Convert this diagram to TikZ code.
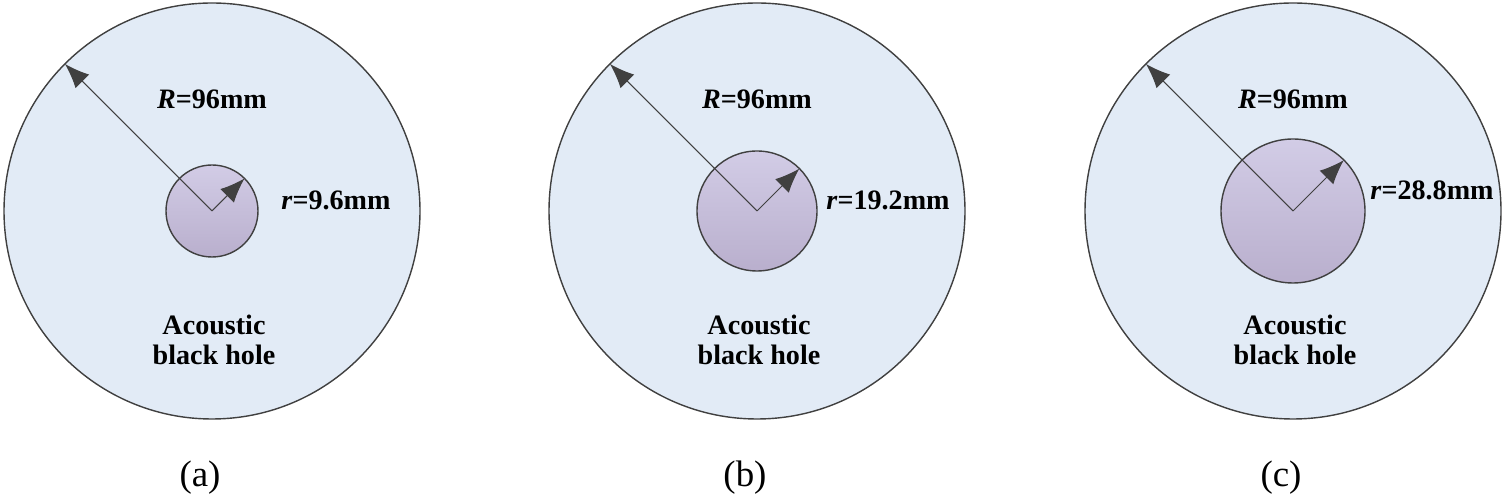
\documentclass[tikz,border=0pt]{standalone}
\usepackage{fontspec}
\setmainfont{Liberation Serif}
\usetikzlibrary{arrows.meta}
\definecolor{plate}{HTML}{E2EBF6}
\definecolor{holetop}{HTML}{D2CCE6}
\definecolor{holebot}{HTML}{B9AFCD}
\definecolor{rim}{HTML}{404040}
\tikzset{plate style/.style={draw=rim,thick,fill=plate},
	hole style/.style={draw=rim,thick,top color=holetop,bottom color=holebot},
	radius arrow/.style={draw=rim,semithick,-{Latex[length=14pt,width=11pt]}},
	dim style/.style={font=\bfseries\fontsize{16}{19}\selectfont},
	caption style/.style={font=\fontsize{21}{24}\selectfont}
}
\begin{document}
\begin{tikzpicture}[x=0.02cm,y=-0.02cm]
	\useasboundingbox (0,0) rectangle (1502,502);
	\foreach \cx/\hr/\lbl/\lx/\ly/\tag in {212/46/9.6/336/200/a,757/60/19.2/888/200/b,1293/72/28.8/1432/190/c}{
		\coordinate (C\tag) at (\cx,211);
		\draw[plate style] (C\tag) circle[radius=208];
		\draw[hole style] (C\tag) circle[radius=\hr];
		\coordinate (Rtip\tag) at ([shift={(225:208)}]C\tag);
		\coordinate (rtip\tag) at ([shift={(315:\hr)}]C\tag);
		\draw[radius arrow] (C\tag) -- (Rtip\tag);
		\draw[radius arrow] (C\tag) -- (rtip\tag);
		\node[dim style] (Rlbl\tag) at (\cx,99) {\textit{R}=96mm};
		\node[dim style] (rlbl\tag) at (\lx,\ly) {\textit{r}=\lbl mm};
		\node[dim style,align=center] (abh\tag) at (\cx+2,340) {Acoustic\\[-2pt]black hole};
		\node[caption style] (cap\tag) at (\cx-12,478) {(\tag)};
	}
\end{tikzpicture}
\end{document}
